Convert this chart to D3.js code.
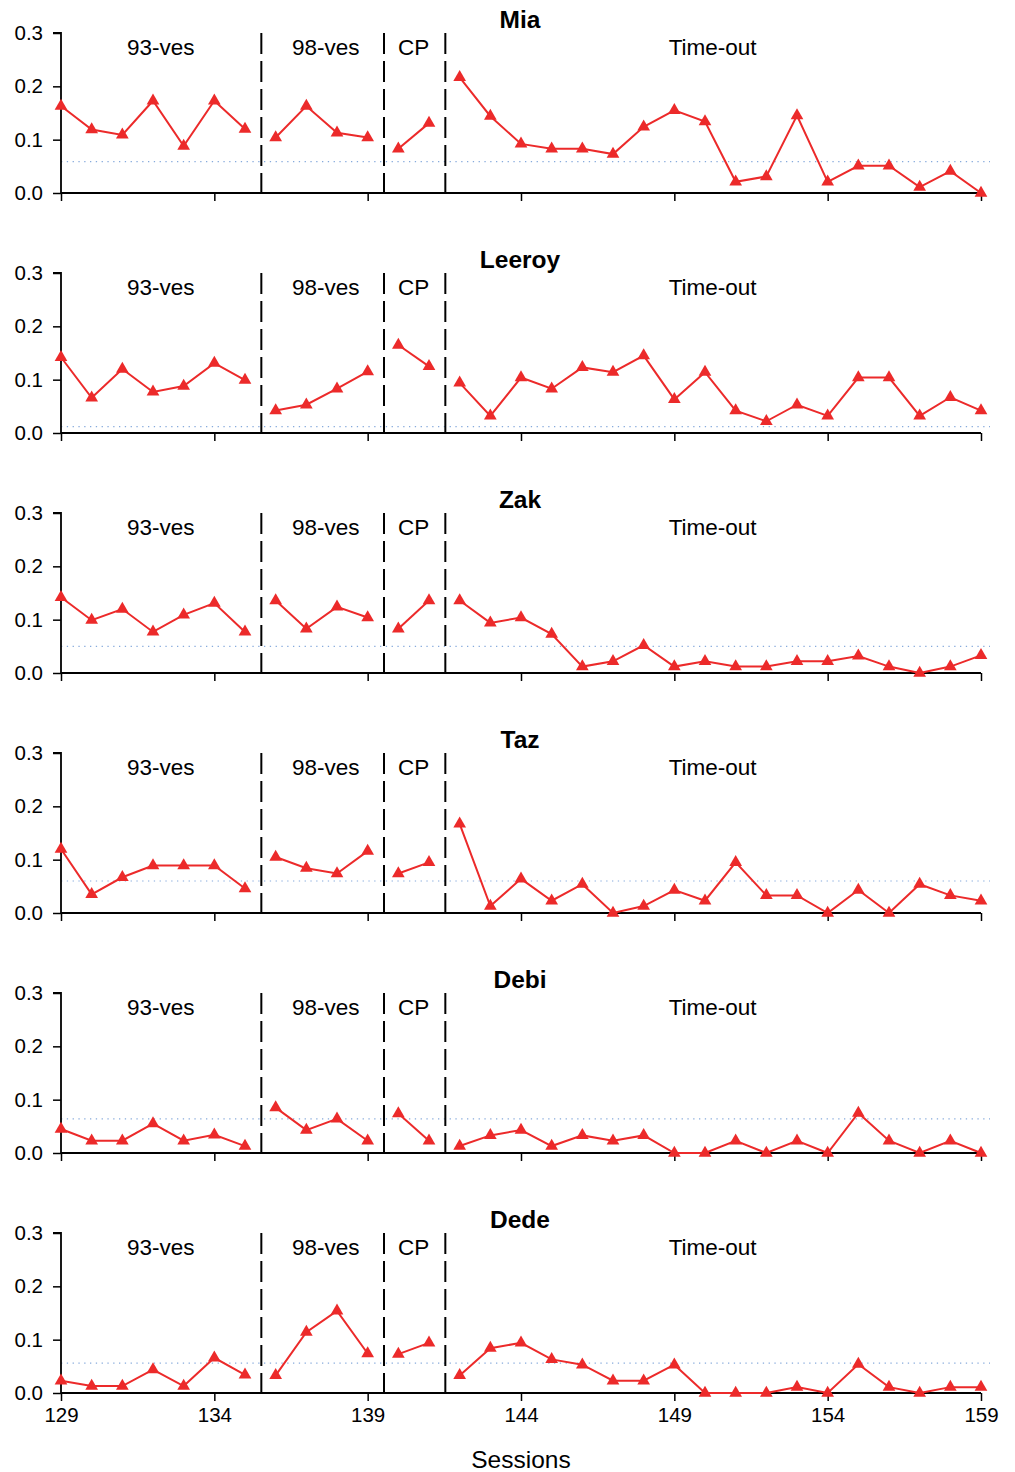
<!DOCTYPE html>
<html>
<head>
<meta charset="utf-8">
<script src="https://cdn.jsdelivr.net/npm/d3@7"></script>
<style>
  html, body { margin: 0; padding: 0; background: #fff; }
  svg { display: block; font-family: "Liberation Sans", Arial, sans-serif; }
</style>
</head>
<body>
<svg id="chart" width="1015" height="1472"></svg>
<script>
// ---- data ----
const sessions = [129,130,131,132,133,134,135,136,137,138,139,140,141,142,143,144,145,146,147,148,149,150,151,152,153,154,155,156,157,158,159];
const phaseNames = ["93-ves", "98-ves", "CP", "Time-out"];
const phaseLengths = [7, 4, 2, 18];
const participants = ["Mia", "Leeroy", "Zak", "Taz", "Debi", "Dede"];

const mia    = [0.163,0.119,0.109,0.173,0.088,0.173,0.120, 0.104,0.163,0.113,0.104, 0.083,0.131, 0.217,0.144,0.092,0.083,0.083,0.073,0.124,0.155,0.134,0.021,0.031,0.145,0.021,0.051,0.051,0.011,0.041,0.000];
const leeroy = [0.142,0.066,0.120,0.077,0.088,0.131,0.099, 0.042,0.053,0.083,0.115, 0.165,0.125, 0.094,0.032,0.104,0.083,0.123,0.114,0.145,0.063,0.114,0.042,0.022,0.053,0.032,0.104,0.104,0.032,0.067,0.042];
const zak    = [0.142,0.099,0.120,0.077,0.109,0.131,0.077, 0.136,0.083,0.124,0.104, 0.083,0.136, 0.136,0.094,0.104,0.073,0.012,0.022,0.052,0.012,0.022,0.012,0.012,0.022,0.022,0.032,0.012,0.000,0.012,0.033];
const taz    = [0.120,0.035,0.067,0.089,0.089,0.089,0.046, 0.105,0.084,0.074,0.116, 0.074,0.095, 0.167,0.013,0.064,0.023,0.054,0.000,0.013,0.043,0.023,0.095,0.033,0.033,0.000,0.043,0.000,0.054,0.033,0.023];
const debi   = [0.045,0.023,0.023,0.055,0.023,0.034,0.013, 0.085,0.043,0.064,0.023, 0.074,0.023, 0.013,0.033,0.043,0.013,0.033,0.023,0.033,0.000,0.000,0.023,0.000,0.023,0.000,0.075,0.023,0.000,0.023,0.000];
const dede   = [0.023,0.013,0.013,0.044,0.013,0.066,0.034, 0.033,0.114,0.154,0.074, 0.073,0.094, 0.033,0.084,0.094,0.063,0.053,0.023,0.023,0.053,0.000,0.000,0.000,0.011,0.000,0.054,0.011,0.000,0.011,0.011];
const baselines = [0.059, 0.012, 0.050, 0.060, 0.064, 0.056];
const seriesList = [mia, leeroy, zak, taz, debi, dede];

const yTicks = [0, 0.1, 0.2, 0.3];
const xTicks = [129, 134, 139, 144, 149, 154, 159];
const xLabel = "Sessions";

// ---- layout ----
const svg = d3.select("#chart");
const left = 61, right = 981;
const panelTop0 = 33, panelH = 160, panelStep = 240;
const red = "#ec2a2a";

const x = d3.scaleLinear().domain([129, 159]).range([left, right]);

// phase boundaries (in session units), clamped to the axis range
const bounds = [];
let idx = 0;
phaseLengths.forEach((n, i) => {
  const first = sessions[idx], last = sessions[idx + n - 1];
  bounds.push({ name: phaseNames[i], start: idx, n: n,
    lo: Math.max(129, first - 0.5), hi: Math.min(159, last + 0.5), cut: first - 0.5 });
  idx += n;
});

participants.forEach((name, p) => {
  const top = panelTop0 + p * panelStep;
  const y = d3.scaleLinear().domain([0, 0.3]).range([top + panelH, top]);
  const g = svg.append("g");
  const vals = seriesList[p];

  // baseline dotted line
  g.append("line")
    .attr("x1", left).attr("x2", 990)
    .attr("y1", y(baselines[p])).attr("y2", y(baselines[p]))
    .attr("stroke", "#86aadc").attr("stroke-width", 1.2)
    .attr("stroke-dasharray", "1.3,4.5");

  // y axis
  const ya = g.append("g").attr("transform", `translate(${left},0)`)
    .call(d3.axisLeft(y).tickValues(yTicks).tickFormat(d3.format(".1f")).tickSize(8).tickPadding(10));
  ya.select(".domain").attr("stroke", "#000").attr("stroke-width", 1.8).attr("d", `M-8,${y(0.3)}H0V${y(0)}`);
  ya.selectAll(".tick line").attr("stroke", "#000").attr("stroke-width", 1.5);
  ya.selectAll(".tick text").attr("font-size", 20.5).attr("fill", "#000")
    .attr("font-family", "Liberation Sans, Arial, sans-serif");

  // x axis
  const xa = g.append("g").attr("transform", `translate(0,${y(0)})`)
    .call(d3.axisBottom(x).tickValues(xTicks).tickFormat(d3.format("d")).tickSize(8).tickPadding(6));
  xa.select(".domain").attr("stroke", "#000").attr("stroke-width", 1.8).attr("d", `M${left},0H${right}`);
  xa.selectAll(".tick line").attr("stroke", "#000").attr("stroke-width", 1.5);
  xa.selectAll(".tick text").attr("font-size", 20.5).attr("fill", "#000")
    .attr("font-family", "Liberation Sans, Arial, sans-serif")
    .style("display", p === participants.length - 1 ? null : "none");

  // phase change dashed lines
  bounds.slice(1).forEach(b => {
    g.append("line")
      .attr("x1", x(b.cut) + 1).attr("x2", x(b.cut) + 1)
      .attr("y1", y(0.3)).attr("y2", y(0))
      .attr("stroke", "#000").attr("stroke-width", 2)
      .attr("stroke-dasharray", "21,7");
  });

  // phase labels
  bounds.forEach(b => {
    g.append("text")
      .attr("x", x((b.lo + b.hi) / 2) + (b.name === "98-ves" ? 4 : 0))
      .attr("y", y(0.3) + 22)
      .attr("text-anchor", "middle")
      .attr("font-size", 22.5)
      .attr("fill", "#000")
      .text(b.name);
  });

  // title
  g.append("text")
    .attr("x", 520).attr("y", top - 5)
    .attr("text-anchor", "middle")
    .attr("font-size", 24.5).attr("font-weight", "bold")
    .attr("fill", "#000")
    .text(name);

  // data lines, per phase
  const line = d3.line().x(d => x(d.s)).y(d => y(d.v));
  bounds.forEach(b => {
    const pts = [];
    for (let k = b.start; k < b.start + b.n; k++) pts.push({ s: sessions[k], v: vals[k] });
    g.append("path").datum(pts)
      .attr("d", line)
      .attr("fill", "none").attr("stroke", red).attr("stroke-width", 2);
    g.selectAll(null).data(pts).enter().append("path")
      .attr("d", d3.symbol().type(d3.symbolTriangle).size(70))
      .attr("transform", d => `translate(${x(d.s)},${y(d.v)})`)
      .attr("fill", red);
  });
});

// x axis title
svg.append("text")
  .attr("x", 521).attr("y", 1468)
  .attr("text-anchor", "middle")
  .attr("font-size", 24.5).attr("fill", "#000")
  .text(xLabel);
</script>
</body>
</html>
